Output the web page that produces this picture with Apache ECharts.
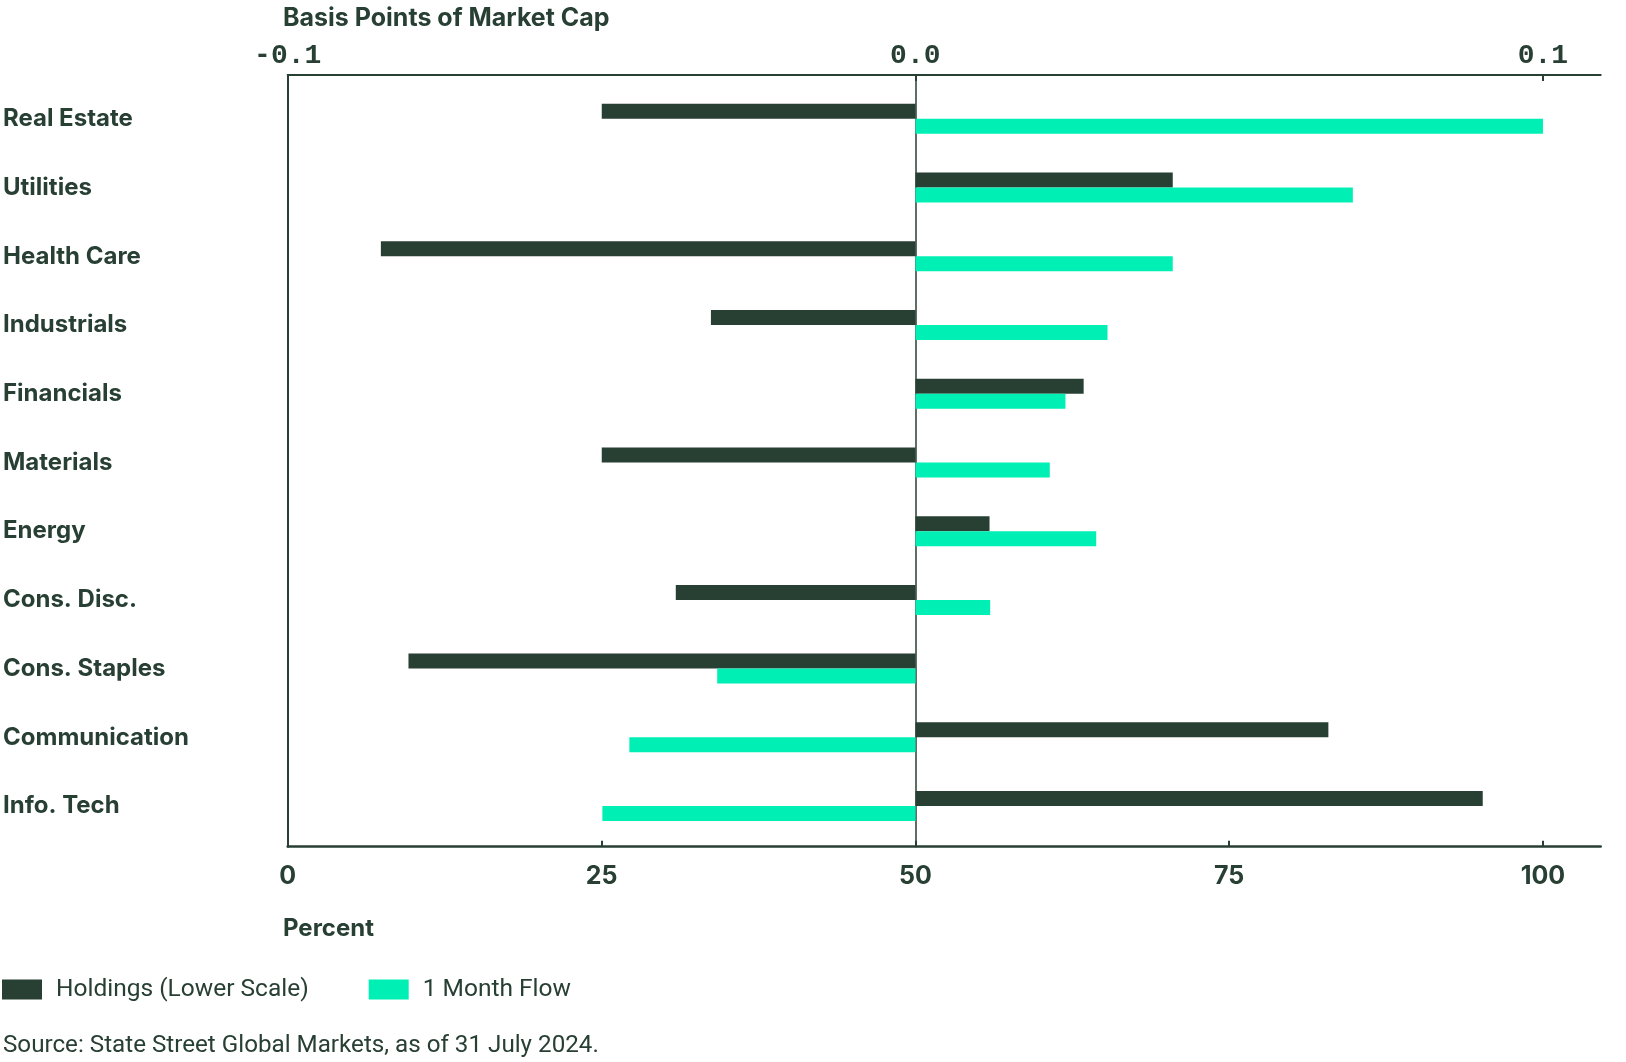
<!DOCTYPE html>
<html>
<head>
<meta charset="utf-8">
<script src="https://cdn.jsdelivr.net/npm/echarts@6/dist/echarts.min.js"></script>
<style>
  html, body { margin: 0; padding: 0; background: #ffffff; }
  #chart { width: 1626px; height: 1062px; }
</style>
</head>
<body>
<div id="chart"></div>
<script>
// sectors, top to bottom
var categories = ['Real Estate', 'Utilities', 'Health Care', 'Industrials', 'Financials',
  'Materials', 'Energy', 'Cons. Disc.', 'Cons. Staples', 'Communication', 'Info. Tech'];
// holdings, percent (lower scale) - bars start at 50
var holdings = [25, 70.5, 7.4, 33.7, 63.4, 25, 55.9, 30.9, 9.6, 82.9, 95.2];
// 1 month flow, basis points of market cap (upper scale)
var flow = [0.1, 0.0697, 0.041, 0.0306, 0.0239, 0.0214, 0.0288, 0.0119, -0.0316, -0.0456, -0.0499];
// tick labels
var pctTicks = [0, 25, 50, 75, 100];
var bpsTicks = [-0.1, 0, 0.1];
var pctMid = 50;

var DARK = '#283f33';
var GREEN = '#00efb4';

// holdings bars grow out of the 50 line: transparent base + visible part
var holdingsBase = holdings.map(function (v) { return Math.min(v, pctMid); });
var holdingsBar = holdings.map(function (v) { return Math.abs(v - pctMid); });

var pctMax = 104.6;
var bpsMax = -0.1 + 0.2 * pctMax / 100;

var chart = echarts.init(document.getElementById('chart'));

var option = {
  animation: false,
  backgroundColor: '#ffffff',
  grid: [
    // bars
    { left: 287.7, right: 25.3, top: 84.5, bottom: 221.6 },
    // frame (axis lines and labels)
    { left: 287.7, right: 25.3, top: 75, bottom: 215.3 }
  ],
  legend: {
    left: 2,
    top: 977,
    padding: 0,
    itemWidth: 40,
    itemHeight: 20,
    itemGap: 60,
    icon: 'rect',
    data: ['Holdings (Lower Scale)', '1 Month Flow'],
    textStyle: {
      fontFamily: 'Roboto',
      fontSize: 24.5,
      color: DARK,
      padding: [0, 0, 0, 9]
    }
  },
  xAxis: [
    // 0: percent, hidden, for bars
    { gridIndex: 0, type: 'value', min: 0, max: pctMax, show: false },
    // 1: bps, hidden, for bars
    { gridIndex: 0, type: 'value', min: -0.1, max: bpsMax, show: false },
    // 2: percent, visible at bottom
    {
      gridIndex: 1, type: 'value', position: 'bottom', min: 0, max: pctMax, interval: 25,
      axisLine: { show: true, lineStyle: { color: DARK, width: 2.5 } },
      axisTick: { show: true, inside: true, length: 6, customValues: pctTicks, lineStyle: { color: DARK, width: 2 } },
      axisLabel: {
        customValues: pctTicks, margin: 17,
        fontFamily: 'Inter', fontWeight: 'bold', fontSize: 25, color: DARK
      },
      splitLine: { show: false }
    },
    // 3: bps, visible at top
    {
      gridIndex: 1, type: 'value', position: 'top', min: -0.1, max: bpsMax, interval: 0.1,
      axisLine: { show: true, lineStyle: { color: DARK, width: 2 } },
      axisTick: { show: true, inside: true, length: 6, customValues: bpsTicks, lineStyle: { color: DARK, width: 2 } },
      axisLabel: {
        customValues: bpsTicks, margin: 5,
        fontFamily: 'Liberation Mono', fontWeight: 'bold', fontSize: 28, color: DARK,
        formatter: function (v) { return v.toFixed(1); }
      },
      splitLine: { show: false }
    }
  ],
  yAxis: [
    // 0: sectors
    {
      gridIndex: 0, type: 'category', inverse: true, data: categories,
      axisLine: { show: false, onZero: false },
      axisTick: { show: false },
      axisLabel: {
        align: 'left', margin: 285, padding: [7, 0, 0, 0],
        fontFamily: 'Inter', fontWeight: 'bold', fontSize: 24, color: DARK
      }
    },
    // 1: left frame line
    {
      gridIndex: 1, type: 'category', position: 'left', data: [''],
      axisLine: { onZero: false, lineStyle: { color: DARK, width: 2 } },
      axisTick: { show: false }, axisLabel: { show: false }
    },
    // 2: zero line of the upper scale
    {
      gridIndex: 1, type: 'category', position: 'right', data: [''],
      axisLine: { onZero: true, onZeroAxisIndex: 3, lineStyle: { color: DARK, width: 1.5 } },
      axisTick: { show: false }, axisLabel: { show: false }
    }
  ],
  series: [
    {
      name: 'base', type: 'bar', xAxisIndex: 0, yAxisIndex: 0, stack: 'hold',
      barWidth: 15, barGap: '0%', silent: true,
      itemStyle: { color: 'rgba(0,0,0,0)' },
      data: holdingsBase
    },
    {
      name: 'Holdings (Lower Scale)', type: 'bar', xAxisIndex: 0, yAxisIndex: 0, stack: 'hold',
      barWidth: 15, barGap: '0%',
      itemStyle: { color: DARK },
      data: holdingsBar
    },
    {
      name: '1 Month Flow', type: 'bar', xAxisIndex: 1, yAxisIndex: 0,
      barWidth: 15, barGap: '0%',
      itemStyle: { color: GREEN },
      data: flow
    }
  ],
  graphic: [
    {
      type: 'text', x: 283, y: 18,
      style: { text: 'Basis Points of Market Cap', font: 'bold 25px Inter', fill: DARK, verticalAlign: 'middle' }
    },
    {
      type: 'text', x: 283, y: 929,
      style: { text: 'Percent', font: 'bold 24px Inter', fill: DARK, verticalAlign: 'middle' }
    },
    {
      type: 'text', x: 3, y: 1046,
      style: { text: 'Source: State Street Global Markets, as of 31 July 2024.', font: '24.2px Roboto', fill: DARK, verticalAlign: 'middle' }
    }
  ]
};

chart.setOption(option);
</script>
</body>
</html>
